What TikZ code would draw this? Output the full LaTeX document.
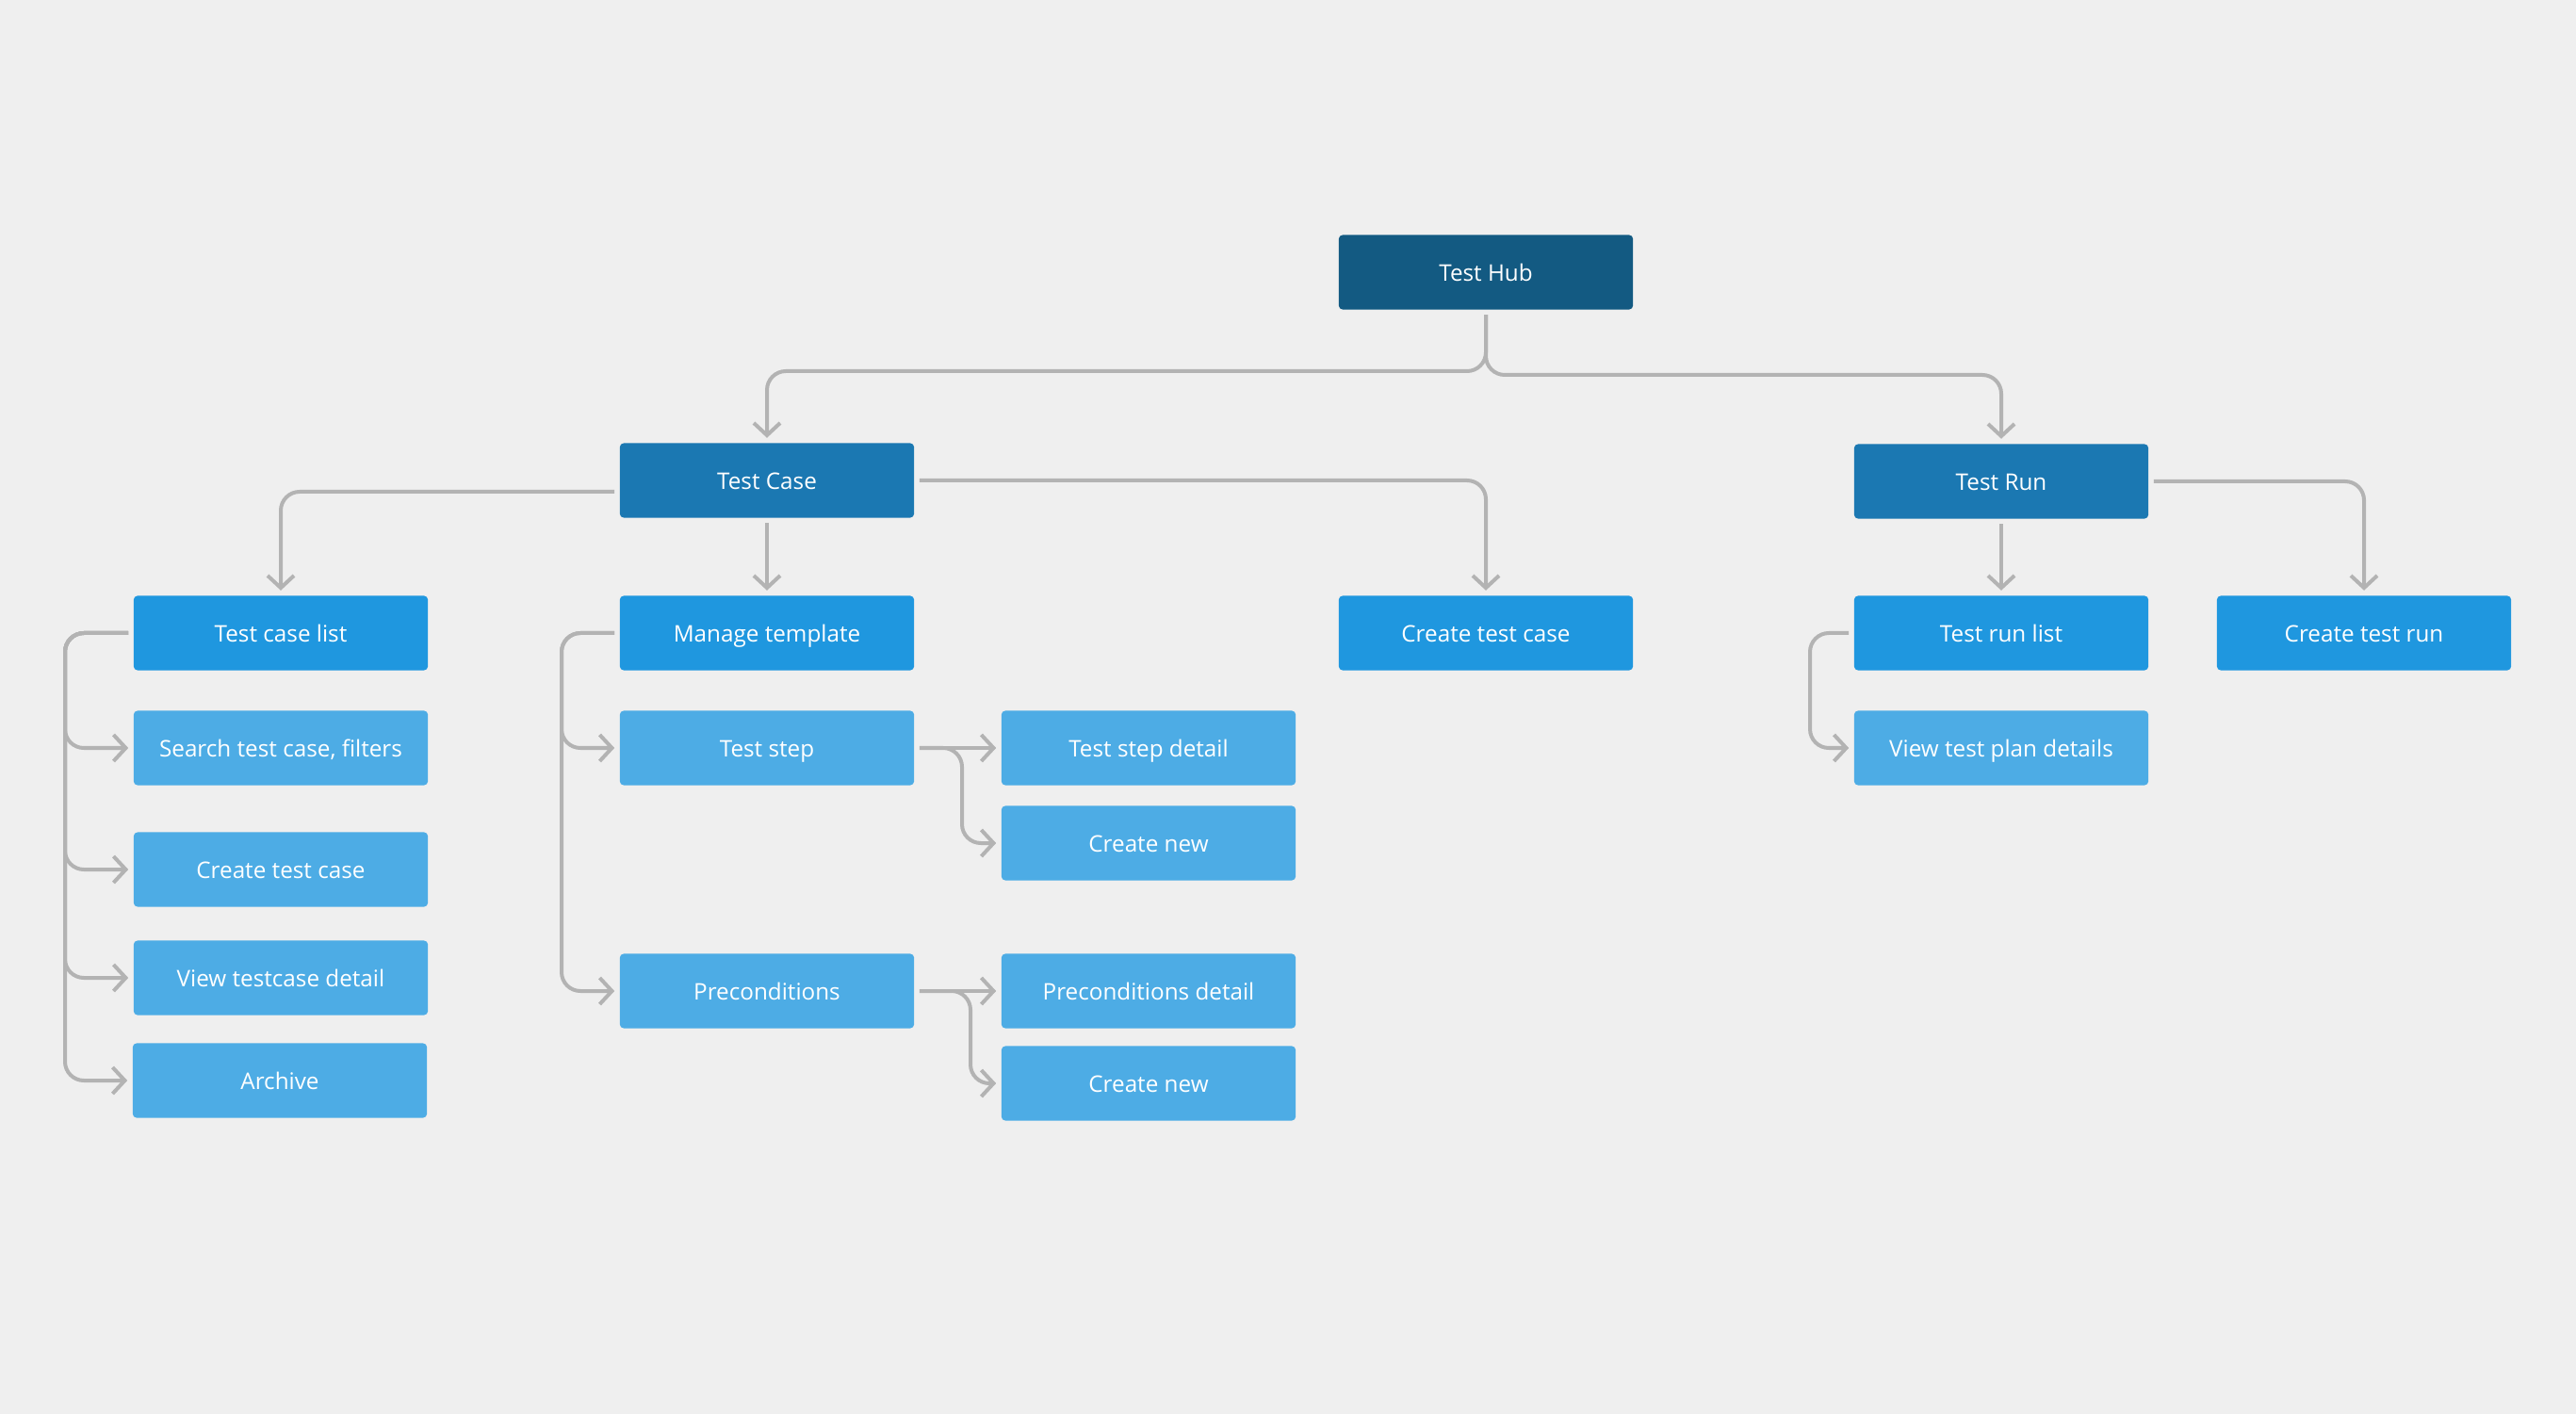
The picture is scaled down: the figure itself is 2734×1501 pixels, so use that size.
\documentclass[tikz,border=0pt]{standalone}
\usepackage{fontspec}
\setmainfont{Open Sans}
\usetikzlibrary{positioning,arrows.meta,calc}

\definecolor{bgcol}{HTML}{EFEFEF}
\definecolor{hubcol}{HTML}{135A82}
\definecolor{maincol}{HTML}{1B78B2}
\definecolor{subcol}{HTML}{1F97DF}
\definecolor{leafcol}{HTML}{4DACE5}
\definecolor{linecol}{HTML}{B3B3B3}

\tikzset{
	box/.style={rectangle, rounded corners=0.04cm, minimum width=3.12cm, minimum height=0.79cm, inner sep=0pt, text height=0.72em, text depth=0.2em, text=white, font=\fontsize{6.9}{9}\selectfont},
	hubbox/.style={box, fill=hubcol},
	mainbox/.style={box, fill=maincol},
	subbox/.style={box, fill=subcol},
	leafbox/.style={box, fill=leafcol},
	link/.style={draw=linecol, line width=0.04cm, rounded corners=0.2cm, shorten <=0.05cm, shorten >=0.05cm, -{Straight Barb[length=0.13cm, width=0.28cm]}},
}

\begin{document}
\begin{tikzpicture}[x=0.01cm, y=-0.01cm]
	\useasboundingbox (0,0) rectangle (2734,1501);
	\fill[bgcol] (0,0) rectangle (2734,1501);

	% Nodes:
	\node[hubbox] (hub) at (1577, 289) {Test Hub};

	\node[mainbox] (tc) at (814, 510) {Test Case};
	\node[mainbox] (tr) at (2124, 511) {Test Run};

	\node[subbox] (tcl) at (298, 672) {Test case list};
	\node[subbox] (mt) at (814, 672) {Manage template};
	\node[subbox] (ctc) at (1577, 672) {Create test case};
	\node[subbox] (trl) at (2124, 672) {Test run list};
	\node[subbox] (ctr) at (2509, 672) {Create test run};

	\node[leafbox] (search) at (298, 794) {Search test case, filters};
	\node[leafbox] (create) at (298, 923) {Create test case};
	\node[leafbox] (view) at (298, 1038) {View testcase detail};
	\node[leafbox] (archive) at (297, 1147) {Archive};

	\node[leafbox] (ts) at (814, 794) {Test step};
	\node[leafbox] (pre) at (814, 1052) {Preconditions};
	\node[leafbox] (tsd) at (1219, 794) {Test step detail};
	\node[leafbox] (tsnew) at (1219, 895) {Create new};
	\node[leafbox] (pred) at (1219, 1052) {Preconditions detail};
	\node[leafbox] (prenew) at (1219, 1150) {Create new};

	\node[leafbox] (vtp) at (2124, 794) {View test plan details};

	% Bends:
	\coordinate (hubl) at (1577, 394);
	\coordinate (hubr) at (1577, 398);
	\coordinate (tcbus) at (69, 672);
	\coordinate (mtbus) at (596, 672);
	\coordinate (trbus) at (1921, 672);
	\coordinate (tsbus) at (1021, 794);
	\coordinate (prebus) at (1030, 1052);

	% Lines:
	\draw[link] (hub.south) -- (hub.south |- hubl) -| (tc.north);
	\draw[link] (hub.south) -- (hub.south |- hubr) -| (tr.north);

	\draw[link] ($(tc.west)+(0,12)$) -| (tcl.north);
	\draw[link] (tc.south) -- (mt.north);
	\draw[link] (tc.east) -| (ctc.north);
	\draw[link] (tr.south) -- (trl.north);
	\draw[link] (tr.east) -| (ctr.north);

	\foreach \leaf in {search, create, view, archive}
		\draw[link] (tcl.west) -- (tcl.west -| tcbus) |- (\leaf.west);

	\draw[link] (mt.west) -- (mt.west -| mtbus) |- (ts.west);
	\draw[link] (mt.west) -- (mt.west -| mtbus) |- (pre.west);

	\draw[link] (ts.east) -- (tsd.west);
	\draw[link] (ts.east) -- (tsbus) |- (tsnew.west);
	\draw[link] (pre.east) -- (pred.west);
	\draw[link] (pre.east) -- (prebus) |- (prenew.west);

	\draw[link] (trl.west) -- (trl.west -| trbus) |- (vtp.west);

\end{tikzpicture}
\end{document}
